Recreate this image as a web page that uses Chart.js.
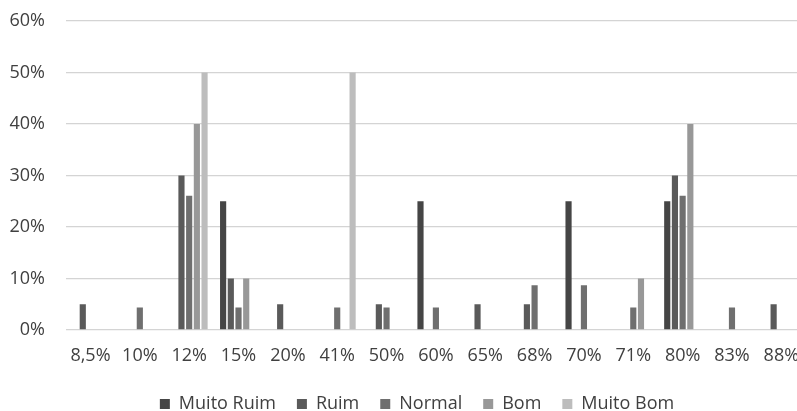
<!DOCTYPE html>
<html>
<head>
<meta charset="utf-8">
<script src="https://cdn.jsdelivr.net/npm/chart.js@4/dist/chart.umd.min.js"></script>
<style>
  html, body { margin: 0; padding: 0; background: #ffffff; overflow: hidden; }
  #wrap { width: 797px; height: 411px; overflow: hidden; }
  #chart { display: block; }
</style>
</head>
<body>
<div id="wrap"><canvas id="chart" width="806" height="411"></canvas></div>
<script>
// Score bands on the x axis
const categories = ['8,5%', '10%', '12%', '15%', '20%', '41%', '50%', '60%', '65%', '68%', '70%', '71%', '80%', '83%', '88%'];

// Share of answers (%) per rating, one value per band
const muitoRuim = [0, 0, 0, 25, 0, 0, 0, 25, 0, 0, 25, 0, 25, 0, 0];
const ruim      = [5, 0, 30, 10, 5, 0, 5, 0, 5, 5, 0, 0, 30, 0, 5];
const normal    = [0, 4.35, 26.09, 4.35, 0, 4.35, 4.35, 4.35, 0, 8.70, 8.70, 4.35, 26.09, 4.35, 0];
const bom       = [0, 0, 40, 10, 0, 0, 0, 0, 0, 0, 0, 10, 40, 0, 0];
const muitoBom  = [0, 0, 50, 0, 0, 50, 0, 0, 0, 0, 0, 0, 0, 0, 0];

// Y axis ticks
const yTicks = [0, 10, 20, 30, 40, 50, 60];

const seriesNames = ['Muito Ruim', 'Ruim', 'Normal', 'Bom', 'Muito Bom'];
const seriesValues = [muitoRuim, ruim, normal, bom, muitoBom];
const seriesColors = ['#454545', '#5a5a5a', '#6f6f6f', '#989898', '#bdbdbd'];

const FONT = "'Open Sans', 'Noto Sans', sans-serif";
const TEXT = '#404040';

// The plot runs to the canvas edge, which sits just past the visible area;
// keep the legend centred on the full chart width.
const legendSpan = {
  id: 'legendSpan',
  afterLayout(chart) {
    const lg = chart.legend;
    if (!lg) return;
    lg.left = 0;
    lg.right = 834;
    lg.width = 834;
  }
};

new Chart(document.getElementById('chart'), {
  type: 'bar',
  data: {
    labels: categories,
    datasets: seriesNames.map((name, i) => ({
      label: name,
      data: seriesValues[i],
      backgroundColor: seriesColors[i],
      borderWidth: 0,
      categoryPercentage: 0.78,
      barPercentage: 0.8
    }))
  },
  plugins: [legendSpan],
  options: {
    responsive: false,
    animation: false,
    devicePixelRatio: 1,
    layout: { padding: { left: 0, right: 0, top: 21, bottom: -12 } },
    plugins: {
      tooltip: { enabled: false },
      legend: {
        position: 'bottom',
        labels: {
          boxWidth: 10,
          boxHeight: 10,
          padding: 21,
          color: TEXT,
          font: { family: FONT, size: 18 }
        }
      }
    },
    scales: {
      x: {
        grid: { display: false, drawTicks: false },
        border: { display: false },
        ticks: {
          color: TEXT,
          font: { family: FONT, size: 18 },
          padding: 15,
          maxRotation: 0,
          autoSkip: false
        },
        afterFit: s => { s.height = 44; s.paddingLeft = 0; s.paddingRight = 0; }
      },
      y: {
        min: 0,
        max: 60,
        afterBuildTicks: s => { s.ticks = yTicks.map(v => ({ value: v })); },
        grid: { color: '#d4d4d4', lineWidth: 1.3, drawTicks: false },
        border: { display: false },
        ticks: {
          color: TEXT,
          font: { family: FONT, size: 18 },
          padding: 20.8,
          callback: v => v + '%'
        },
        afterFit: s => { s.width = 65.8; s.paddingTop = 0; s.paddingBottom = 0; }
      }
    }
  }
});
</script>
</body>
</html>
